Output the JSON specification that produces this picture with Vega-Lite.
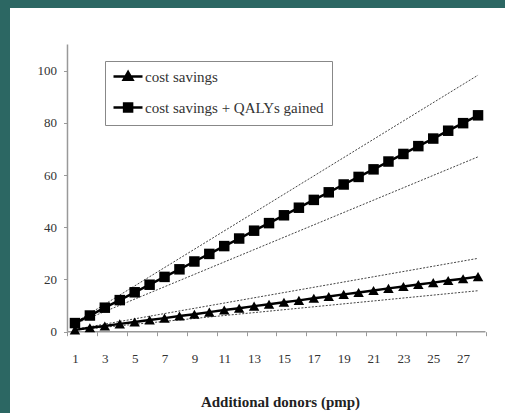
{
  "$schema": "https://vega.github.io/schema/vega-lite/v6.json",
  "width": 495,
  "height": 405,
  "autosize": {"type": "none"},
  "padding": {"left": 10, "top": 8, "right": 0, "bottom": 0},
  "background": "#2c6763",
  "config": {
    "view": {"fill": "white", "stroke": null},
    "font": "Liberation Serif",
    "axis": {"labelFont": "Liberation Serif", "titleFont": "Liberation Serif", "labelOverlap": false},
    "legend": {"labelFont": "Liberation Serif"}
  },
  "datasets": {
    "series": [
      {"donors": 1, "series": "cost savings", "value": 0.7},
      {"donors": 2, "series": "cost savings", "value": 1.5},
      {"donors": 3, "series": "cost savings", "value": 2.2},
      {"donors": 4, "series": "cost savings", "value": 3.0},
      {"donors": 5, "series": "cost savings", "value": 3.7},
      {"donors": 6, "series": "cost savings", "value": 4.5},
      {"donors": 7, "series": "cost savings", "value": 5.2},
      {"donors": 8, "series": "cost savings", "value": 6.0},
      {"donors": 9, "series": "cost savings", "value": 6.7},
      {"donors": 10, "series": "cost savings", "value": 7.5},
      {"donors": 11, "series": "cost savings", "value": 8.3},
      {"donors": 12, "series": "cost savings", "value": 9.0},
      {"donors": 13, "series": "cost savings", "value": 9.8},
      {"donors": 14, "series": "cost savings", "value": 10.5},
      {"donors": 15, "series": "cost savings", "value": 11.3},
      {"donors": 16, "series": "cost savings", "value": 12.0},
      {"donors": 17, "series": "cost savings", "value": 12.8},
      {"donors": 18, "series": "cost savings", "value": 13.5},
      {"donors": 19, "series": "cost savings", "value": 14.3},
      {"donors": 20, "series": "cost savings", "value": 15.0},
      {"donors": 21, "series": "cost savings", "value": 15.8},
      {"donors": 22, "series": "cost savings", "value": 16.6},
      {"donors": 23, "series": "cost savings", "value": 17.3},
      {"donors": 24, "series": "cost savings", "value": 18.1},
      {"donors": 25, "series": "cost savings", "value": 18.8},
      {"donors": 26, "series": "cost savings", "value": 19.6},
      {"donors": 27, "series": "cost savings", "value": 20.3},
      {"donors": 28, "series": "cost savings", "value": 21.1},
      {"donors": 1, "series": "cost savings + QALYs gained", "value": 3.3},
      {"donors": 2, "series": "cost savings + QALYs gained", "value": 6.2},
      {"donors": 3, "series": "cost savings + QALYs gained", "value": 9.2},
      {"donors": 4, "series": "cost savings + QALYs gained", "value": 12.1},
      {"donors": 5, "series": "cost savings + QALYs gained", "value": 15.1},
      {"donors": 6, "series": "cost savings + QALYs gained", "value": 18.0},
      {"donors": 7, "series": "cost savings + QALYs gained", "value": 21.0},
      {"donors": 8, "series": "cost savings + QALYs gained", "value": 23.9},
      {"donors": 9, "series": "cost savings + QALYs gained", "value": 26.9},
      {"donors": 10, "series": "cost savings + QALYs gained", "value": 29.8},
      {"donors": 11, "series": "cost savings + QALYs gained", "value": 32.8},
      {"donors": 12, "series": "cost savings + QALYs gained", "value": 35.7},
      {"donors": 13, "series": "cost savings + QALYs gained", "value": 38.7},
      {"donors": 14, "series": "cost savings + QALYs gained", "value": 41.6},
      {"donors": 15, "series": "cost savings + QALYs gained", "value": 44.6},
      {"donors": 16, "series": "cost savings + QALYs gained", "value": 47.5},
      {"donors": 17, "series": "cost savings + QALYs gained", "value": 50.5},
      {"donors": 18, "series": "cost savings + QALYs gained", "value": 53.4},
      {"donors": 19, "series": "cost savings + QALYs gained", "value": 56.4},
      {"donors": 20, "series": "cost savings + QALYs gained", "value": 59.3},
      {"donors": 21, "series": "cost savings + QALYs gained", "value": 62.2},
      {"donors": 22, "series": "cost savings + QALYs gained", "value": 65.2},
      {"donors": 23, "series": "cost savings + QALYs gained", "value": 68.1},
      {"donors": 24, "series": "cost savings + QALYs gained", "value": 71.1},
      {"donors": 25, "series": "cost savings + QALYs gained", "value": 74.0},
      {"donors": 26, "series": "cost savings + QALYs gained", "value": 77.0},
      {"donors": 27, "series": "cost savings + QALYs gained", "value": 79.9},
      {"donors": 28, "series": "cost savings + QALYs gained", "value": 82.9}
    ],
    "bounds": [
      {"donors": 1, "bound": "cost savings upper", "value": 0.9},
      {"donors": 28, "bound": "cost savings upper", "value": 28.1},
      {"donors": 1, "bound": "cost savings lower", "value": 0.6},
      {"donors": 28, "bound": "cost savings lower", "value": 15.7},
      {"donors": 1, "bound": "QALYs upper", "value": 3.5},
      {"donors": 28, "bound": "QALYs upper", "value": 98.3},
      {"donors": 1, "bound": "QALYs lower", "value": 3.0},
      {"donors": 28, "bound": "QALYs lower", "value": 67.0}
    ]
  },
  "layer": [
    {
      "data": {"values": [{}]},
      "mark": {"type": "rule", "color": "#999999", "strokeWidth": 1.5},
      "encoding": {
        "x": {"datum": 0.5, "type": "quantitative"},
        "x2": {"datum": 28.5},
        "y": {"datum": 0, "type": "quantitative"}
      }
    },
    {
      "data": {"values": [{}]},
      "mark": {"type": "rule", "color": "#999999", "strokeWidth": 1.5},
      "encoding": {
        "x": {"datum": 0.5, "type": "quantitative"},
        "y": {"datum": 0, "type": "quantitative"},
        "y2": {"datum": 110}
      }
    },
    {
      "data": {"name": "bounds"},
      "mark": {"type": "line", "color": "#444444", "strokeWidth": 1, "strokeDash": [2, 1.5]},
      "encoding": {
        "x": {"field": "donors", "type": "quantitative"},
        "y": {"field": "value", "type": "quantitative"},
        "detail": {"field": "bound"}
      }
    },
    {
      "data": {"name": "series"},
      "mark": {"type": "line", "strokeWidth": 2.5},
      "encoding": {
        "x": {
          "field": "donors",
          "type": "quantitative",
          "scale": {"domain": [-3.351, 29.806], "nice": false, "zero": false},
          "axis": {
            "values": [0.5, 1, 2.5, 3, 4.5, 5, 6.5, 7, 8.5, 9, 10.5, 11, 12.5, 13, 14.5, 15, 16.5, 17, 18.5, 19, 20.5, 21, 22.5, 23, 24.5, 25, 26.5, 27, 28.5],
            "tickCount": 60,
            "format": "d",
            "labelExpr": "datum.value % 2 == 1 ? datum.label : ''",
            "tickOpacity": {"condition": {"test": "datum.value % 1 != 0", "value": 1}, "value": 0},
            "offset": -81.3,
            "domain": false,
            "grid": false,
            "tickSize": 4,
            "tickColor": "#999999",
            "labelFont": "Liberation Serif",
            "labelFontSize": 13,
            "labelColor": "#333333",
            "labelPadding": 17,
            "labelOverlap": false,
            "labelFlush": false,
            "labelBound": false,
            "title": "Additional donors (pmp)",
            "titleFont": "Liberation Serif",
            "titleFontSize": 15,
            "titleFontWeight": "bold",
            "titleColor": "#222222",
            "titlePadding": 29,
            "titleX": 270
          }
        },
        "y": {
          "field": "value",
          "type": "quantitative",
          "scale": {"domain": [-31.15, 124.02], "nice": false, "zero": false},
          "axis": {
            "values": [0, 20, 40, 60, 80, 100],
            "tickCount": 20,
            "offset": -57.5,
            "domain": false,
            "grid": false,
            "tickSize": 4,
            "tickColor": "#999999",
            "labelFont": "Liberation Serif",
            "labelFontSize": 13,
            "labelColor": "#333333",
            "labelPadding": 7,
            "title": null
          }
        },
        "color": {
          "field": "series",
          "type": "nominal",
          "scale": {"range": ["black", "black"]},
          "legend": {
            "title": null,
            "orient": "none",
            "legendX": 95,
            "legendY": 53,
            "fillColor": "white",
            "strokeColor": "#888888",
            "padding": 8,
            "rowPadding": 13,
            "labelFont": "Liberation Serif",
            "labelFontSize": 15,
            "labelColor": "#333333",
            "labelLimit": 400,
            "labelOffset": 17,
            "symbolSize": 64,
            "encode": {
              "symbols": {
                "update": {
                  "shape": {"signal": "datum.value == 'cost savings' ? 'M-1.75,0H5.5M1.9,-1.1L3.0,0.8L0.8,0.8Z' : 'M-1.75,0H5.5M0.9,-1H2.9V1H0.9Z'"},
                  "fill": {"value": "black"},
                  "stroke": {"value": "black"},
                  "strokeWidth": {"value": 2.5},
                  "size": {"value": 64}
                }
              }
            }
          }
        }
      }
    },
    {
      "data": {"name": "series"},
      "mark": {"type": "point", "filled": true, "size": 110, "opacity": 1, "color": "black"},
      "encoding": {
        "x": {"field": "donors", "type": "quantitative"},
        "y": {"field": "value", "type": "quantitative"},
        "shape": {
          "field": "series",
          "type": "nominal",
          "scale": {"range": ["triangle-up", "square"]},
          "legend": null
        }
      }
    }
  ]
}
